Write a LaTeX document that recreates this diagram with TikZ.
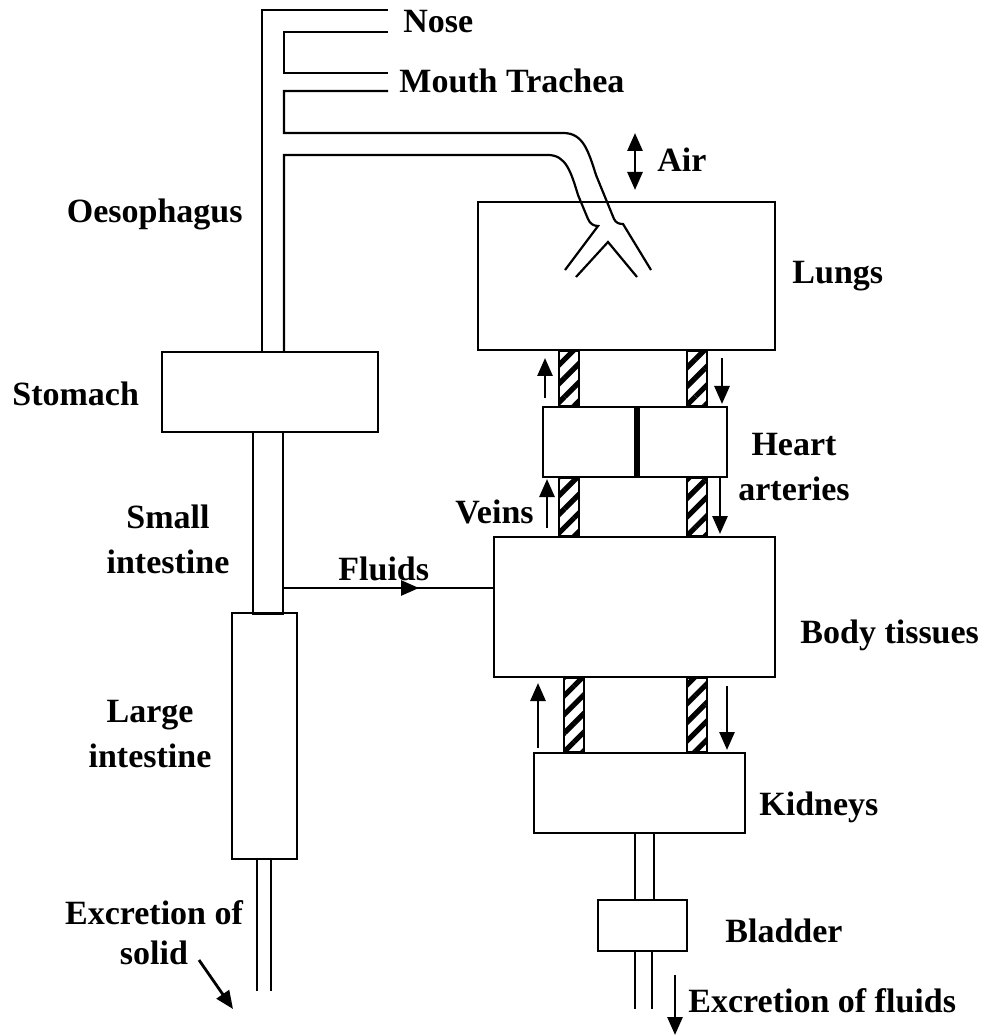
\documentclass[tikz,border=0pt]{standalone}
\usepackage{fontspec}
\setmainfont{Liberation Serif}
\usepackage{tikz}
\usetikzlibrary{arrows.meta,patterns.meta}
\tikzset{
  organ/.style={draw,line width=1.1pt,inner sep=0pt},
  vessel/.style={draw,line width=1.1pt,
                 pattern={Lines[angle=45,distance=6.6pt,line width=2.6pt]}},
  tube/.style={line width=1.1pt},
  flow/.style={-{Triangle[length=9pt,width=7.5pt]},line width=1.4pt},
  lbl/.style={font=\bfseries\fontsize{17}{22.5}\selectfont,inner sep=0pt,align=center},
}

\begin{document}
\begin{tikzpicture}[x=0.5pt,y=-0.5pt]
  \useasboundingbox[fill=white] (0,0) rectangle (987,1036);
  \node[organ,minimum width=148.5pt,minimum height=74pt] (lungs) at (626.5,276) {};
  \node[organ,minimum width=108pt,minimum height=40pt] (stomach) at (270,392) {};
  \node[organ,minimum width=92pt,minimum height=35pt] (heart) at (635,442) {};
  \node[organ,minimum width=140.5pt,minimum height=70pt] (tissues) at (634.5,607) {};
  \node[organ,minimum width=105.5pt,minimum height=40pt] (kidneys) at (639.5,793) {};
  \node[organ,minimum width=44.5pt,minimum height=25.5pt] (bladder) at (642.5,925.5) {};
  \node[organ,minimum width=15pt,minimum height=91pt] (smallint) at (268,523) {};
  \node[organ,minimum width=32.5pt,minimum height=123pt] (largeint) at (264.5,736) {};
  \draw[line width=2.6pt] (heart.north -| 637,0) -- (heart.south -| 637,0);
  \coordinate (oesL) at (262,10);
  \coordinate (oesR) at (284,155);
  \coordinate (fl) at (0,588);
  % mouth, nose and windpipe
  \draw[tube] (stomach.north -| oesL) -- (oesL) -- (388,10);
  \draw[tube] (388,32) -- (284,32) -- (284,73) -- (388,73);
  \draw[tube] (388,91) -- (284,91) -- (284,133) -- (563,133)
    .. controls (583,133) and (588,150) .. (596,175) -- (614,219)
    .. controls (616,223) and (619,224) .. (623,224) -- (651,270);
  \draw[tube] (stomach.north -| oesR) -- (oesR) -- (548,155)
    .. controls (566,155) and (571,172) .. (578,195) -- (588,219)
    .. controls (590,224) and (594,226) .. (598,226) -- (565,270);
  \draw[tube] (576,277) -- (608,242) -- (637,277);
  \draw[{Triangle[length=9pt,width=7.5pt]}-{Triangle[length=9pt,width=7.5pt]},line width=1.4pt]
    (635,133) -- (635,190);
  % blood vessels
  \draw[vessel] (lungs.south -| 559,0) rectangle (heart.north -| 579,0);
  \draw[vessel] (lungs.south -| 687,0) rectangle (heart.north -| 707,0);
  \draw[vessel] (heart.south -| 559,0) rectangle (tissues.north -| 579,0);
  \draw[vessel] (heart.south -| 687,0) rectangle (tissues.north -| 707,0);
  \draw[vessel] (tissues.south -| 564,0) rectangle (kidneys.north -| 584,0);
  \draw[vessel] (tissues.south -| 687,0) rectangle (kidneys.north -| 707,0);
  \draw[flow] (545,398) -- (545,358);
  \draw[flow] (547,528) -- (547,479);
  \draw[flow] (722,358) -- (722,404);
  \draw[flow] (720,478) -- (720,534);
  \draw[flow] (538,748) -- (538,683);
  \draw[flow] (727,686) -- (727,750);
  % fluids and excretion
  \draw[tube] (smallint.east |- fl) -- (tissues.west |- fl);
  \draw[flow] (smallint.east |- fl) -- (419,588);
  \draw[tube] (largeint.south -| 257,0) -- (257,991);
  \draw[tube] (largeint.south -| 271,0) -- (271,991);
  \draw[tube] (kidneys.south -| 635,0) -- (bladder.north -| 635,0);
  \draw[tube] (kidneys.south -| 654,0) -- (bladder.north -| 654,0);
  \draw[tube] (bladder.south -| 635,0) -- (635,1009);
  \draw[tube] (bladder.south -| 652,0) -- (652,1009);
  \draw[flow] (199,960) -- (233,1009);
  \draw[flow] (675,975) -- (675,1035);
  % labels
  \node[lbl,anchor=base west] (nose) at (403,33) {Nose};
  \node[lbl,anchor=base west] (mouth) at (399,93) {Mouth Trachea};
  \node[lbl,anchor=base west] (air) at (657,172) {Air};
  \node[lbl,anchor=base east] (oeso) at (243,223) {Oesophagus};
  \node[lbl,anchor=base west] (lunglbl) at (792,284) {Lungs};
  \node[lbl,anchor=base west] (stomlbl) at (12,406) {Stomach};
  \node[lbl,anchor=north] (heartlbl) at (794,433) {Heart\\arteries};
  \node[lbl,anchor=base east] (veins) at (534,523) {Veins};
  \node[lbl,anchor=north] (smalllbl) at (168,505) {Small\\intestine};
  \node[lbl,anchor=base west] (fluids) at (338,580) {Fluids};
  \node[lbl,anchor=base west] (tisslbl) at (800,643) {Body tissues};
  \node[lbl,anchor=north] (largelbl) at (150,700) {Large\\intestine};
  \node[lbl,anchor=base west] (kidlbl) at (759,815) {Kidneys};
  \node[lbl,anchor=north] (solid) at (154,900) {Excretion of\\[-2.5pt]solid};
  \node[lbl,anchor=base west] (bladlbl) at (725,942) {Bladder};
  \node[lbl,anchor=base west] (exfluid) at (688,1012) {Excretion of fluids};
\end{tikzpicture}
\end{document}
